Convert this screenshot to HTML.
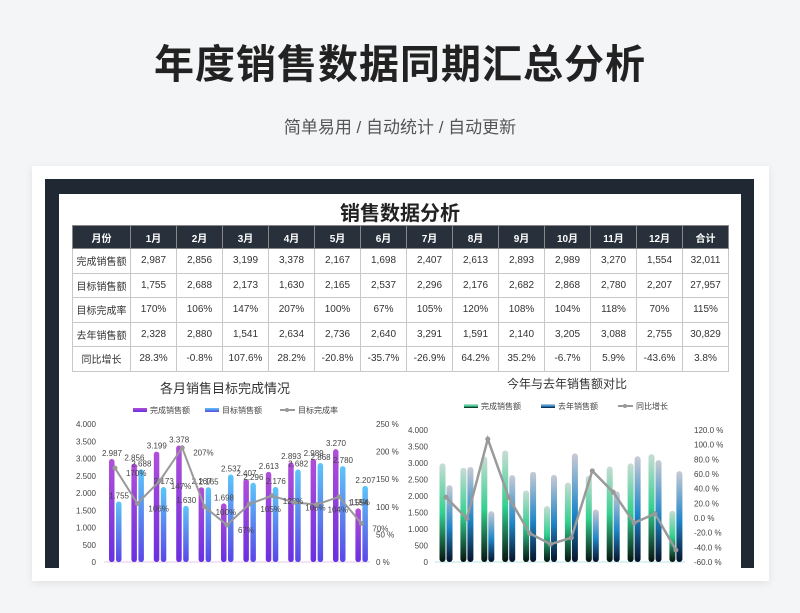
<!DOCTYPE html>
<html><head><meta charset="utf-8"><style>
*{margin:0;padding:0;box-sizing:border-box}
body{width:800px;height:613px;background:#f4f5f7;font-family:"Liberation Sans","Noto Sans CJK SC",sans-serif;position:relative;overflow:hidden}
.title{position:absolute;top:32px;left:0;width:800px;text-align:center;font-size:40px;font-weight:bold;color:#222;letter-spacing:1px}
.sub{position:absolute;top:113px;left:0;width:800px;text-align:center;font-size:17px;color:#555}
.card{position:absolute;left:32px;top:166px;width:737px;height:415px;background:#fff;box-shadow:0 2px 8px rgba(0,0,0,.08)}
.frame{position:absolute;left:45px;top:179px;width:709px;height:389px;background:#1f2833}
.inner{position:absolute;left:59px;top:194px;width:682px;height:374px;background:#fff;overflow:hidden}
.h2{position:absolute;top:3px;left:0;width:682px;text-align:center;font-size:20px;font-weight:bold;color:#222}
table{position:absolute;left:13px;top:31px;border-collapse:collapse;font-size:10px;color:#333}
td{border:1px solid #c8c8c8;text-align:center;height:24.5px;width:46px}
td:first-child{width:58px}
tr.hd td{background:#27303b;color:#fff;font-weight:bold;height:23px;border-color:#888}
svg{position:absolute;left:0;top:0}
</style></head><body>
<div class="title">年度销售数据同期汇总分析</div>
<div class="sub">简单易用 / 自动统计 / 自动更新</div>
<div class="card"></div>
<div class="frame"></div>
<div class="inner">
<div class="h2">销售数据分析</div>
<table>
<tr class="hd"><td>月份</td><td>1月</td><td>2月</td><td>3月</td><td>4月</td><td>5月</td><td>6月</td><td>7月</td><td>8月</td><td>9月</td><td>10月</td><td>11月</td><td>12月</td><td>合计</td></tr>
<tr><td>完成销售额</td><td>2,987</td><td>2,856</td><td>3,199</td><td>3,378</td><td>2,167</td><td>1,698</td><td>2,407</td><td>2,613</td><td>2,893</td><td>2,989</td><td>3,270</td><td>1,554</td><td>32,011</td></tr>
<tr><td>目标销售额</td><td>1,755</td><td>2,688</td><td>2,173</td><td>1,630</td><td>2,165</td><td>2,537</td><td>2,296</td><td>2,176</td><td>2,682</td><td>2,868</td><td>2,780</td><td>2,207</td><td>27,957</td></tr>
<tr><td>目标完成率</td><td>170%</td><td>106%</td><td>147%</td><td>207%</td><td>100%</td><td>67%</td><td>105%</td><td>120%</td><td>108%</td><td>104%</td><td>118%</td><td>70%</td><td>115%</td></tr>
<tr><td>去年销售额</td><td>2,328</td><td>2,880</td><td>1,541</td><td>2,634</td><td>2,736</td><td>2,640</td><td>3,291</td><td>1,591</td><td>2,140</td><td>3,205</td><td>3,088</td><td>2,755</td><td>30,829</td></tr>
<tr><td>同比增长</td><td>28.3%</td><td>-0.8%</td><td>107.6%</td><td>28.2%</td><td>-20.8%</td><td>-35.7%</td><td>-26.9%</td><td>64.2%</td><td>35.2%</td><td>-6.7%</td><td>5.9%</td><td>-43.6%</td><td>3.8%</td></tr>
</table>
</div>
<svg id="c" width="800" height="613">
<defs>
<linearGradient id="gp" x1="0" y1="0" x2="0" y2="1"><stop offset="0" stop-color="#b14fd8"/><stop offset="1" stop-color="#6a2fe0"/></linearGradient>
<linearGradient id="gb" x1="0" y1="0" x2="0" y2="1"><stop offset="0" stop-color="#5cc6f8"/><stop offset="1" stop-color="#5a46e6"/></linearGradient>
<linearGradient id="gg" x1="0" y1="0" x2="0" y2="1"><stop offset="0" stop-color="#c8dcd4"/><stop offset=".5" stop-color="#34d08f"/><stop offset="1" stop-color="#05140f"/></linearGradient>
<linearGradient id="gd" x1="0" y1="0" x2="0" y2="1"><stop offset="0" stop-color="#c9cbd4"/><stop offset=".55" stop-color="#1f86c9"/><stop offset="1" stop-color="#06122a"/></linearGradient>
</defs>
<clipPath id="cp"><rect x="59" y="194" width="682" height="374"/></clipPath>
<g id="g" clip-path="url(#cp)"></g>
</svg>
<script>
const actual=[2987,2856,3199,3378,2167,1698,2407,2613,2893,2989,3270,1554];
const target=[1755,2688,2173,1630,2165,2537,2296,2176,2682,2868,2780,2207];
const rate=[170,106,147,207,100,67,105,120,108,104,118,70];
const lastYear=[2328,2880,1541,2634,2736,2640,3291,1591,2140,3205,3088,2755];
const growth=[28.3,-0.8,107.6,28.2,-20.8,-35.7,-26.9,64.2,35.2,-6.7,5.9,-43.6];
const leftTicks=[0,500,1000,1500,2000,2500,3000,3500,4000];
const rateTicks=[0,50,100,150,200,250];
const growthTicks=[-60,-40,-20,0,20,40,60,80,100,120];
const NS='http://www.w3.org/2000/svg',G=document.getElementById('g');
function mk(t,a,txt){const e=document.createElementNS(NS,t);for(const k in a)e.setAttribute(k,a[k]);if(txt!=null)e.textContent=txt;G.appendChild(e);return e;}
const fmt=v=>v.toLocaleString('en-US').replace(',','.');
// left chart
const L0=562,LH=138,ly=v=>L0-v/4000*LH,lr=v=>L0-v/250*LH,lx=i=>112+i*22.4;
let t=mk('text',{x:225,y:393,'text-anchor':'middle','font-size':13,fill:'#333'},'各月销售目标完成情况');
[['url(#gp)','完成销售额',133],['url(#gb)','目标销售额',205]].forEach(([f,n,x])=>{let r=mk('rect',{x:x,y:408,width:14,height:4,fill:f});let e=mk('text',{x:x+17,y:413,'font-size':8,fill:'#444'},n);});
mk('line',{x1:280,y1:410,x2:295,y2:410,stroke:'#999','stroke-width':2});mk('circle',{cx:287,cy:410,r:2,fill:'#999'});
t=mk('text',{x:298,y:413,'font-size':8,fill:'#444'},'目标完成率');
leftTicks.forEach(v=>{let e=mk('text',{x:96,y:ly(v)+3,'text-anchor':'end','font-size':8,fill:'#444'},fmt(v));});
rateTicks.forEach(v=>{let e=mk('text',{x:376,y:lr(v)+3,'font-size':8,fill:'#444'},v+' %');});
mk('line',{x1:104,y1:L0,x2:370,y2:L0,stroke:'#e6c8e8'});
actual.forEach((v,i)=>{let r=mk('rect',{x:lx(i)-3,y:ly(v),width:5.5,height:L0-ly(v),rx:2.7,fill:'url(#gp)'});
 r=mk('rect',{x:lx(i)+4,y:ly(target[i]),width:5.5,height:L0-ly(target[i]),rx:2.7,fill:'url(#gb)'});
 mk('text',{x:lx(i),y:ly(v)-3,'text-anchor':'middle','font-size':8,fill:'#444'},fmt(v));
 mk('text',{x:lx(i)+7,y:ly(target[i])-3,'text-anchor':'middle','font-size':8,fill:'#444'},fmt(target[i]));});
let pts=rate.map((v,i)=>(lx(i)+3)+','+lr(v)).join(' ');
t=mk('polyline',{points:pts,fill:'none',stroke:'#999','stroke-width':2});
rate.forEach((v,i)=>{let c=mk('circle',{cx:lx(i)+3,cy:lr(v),r:2.5,fill:'#999'});mk('text',{x:lx(i)+14,y:lr(v)+8,'font-size':8,fill:'#444'},v+'%');});
// right chart
const R0=562,RH=132,ry=v=>R0-v/4000*RH,rg=v=>R0-(v+60)/180*RH,rx=i=>443+i*20.9;
t=mk('text',{x:567,y:388,'text-anchor':'middle','font-size':12,fill:'#333'},'今年与去年销售额对比');
[['url(#gg)','完成销售额',464],['url(#gd)','去年销售额',541]].forEach(([f,n,x])=>{let r=mk('rect',{x:x,y:404,width:14,height:4,fill:f});let e=mk('text',{x:x+17,y:409,'font-size':8,fill:'#444'},n);});
mk('line',{x1:618,y1:406,x2:633,y2:406,stroke:'#999','stroke-width':2});mk('circle',{cx:625,cy:406,r:2,fill:'#999'});
t=mk('text',{x:636,y:409,'font-size':8,fill:'#444'},'同比增长');
leftTicks.forEach(v=>{let e=mk('text',{x:428,y:ry(v)+3,'text-anchor':'end','font-size':8,fill:'#444'},fmt(v));});
growthTicks.forEach(v=>{let e=mk('text',{x:694,y:rg(v)+3,'font-size':8,fill:'#444'},v.toFixed(1)+' %');});
mk('line',{x1:435,y1:R0,x2:685,y2:R0,stroke:'#bfe6e6'});
actual.forEach((v,i)=>{let r=mk('rect',{x:rx(i)-3.5,y:ry(v),width:6,height:R0-ry(v),rx:3,fill:'url(#gg)'});
 r=mk('rect',{x:rx(i)+3.5,y:ry(lastYear[i]),width:6,height:R0-ry(lastYear[i]),rx:3,fill:'url(#gd)'});});
pts=growth.map((v,i)=>(rx(i)+3)+','+rg(v)).join(' ');
t=mk('polyline',{points:pts,fill:'none',stroke:'#9a9a9a','stroke-width':2.5});
growth.forEach((v,i)=>{let c=mk('circle',{cx:rx(i)+3,cy:rg(v),r:2.5,fill:'#999'});});
</script>
</body></html>
